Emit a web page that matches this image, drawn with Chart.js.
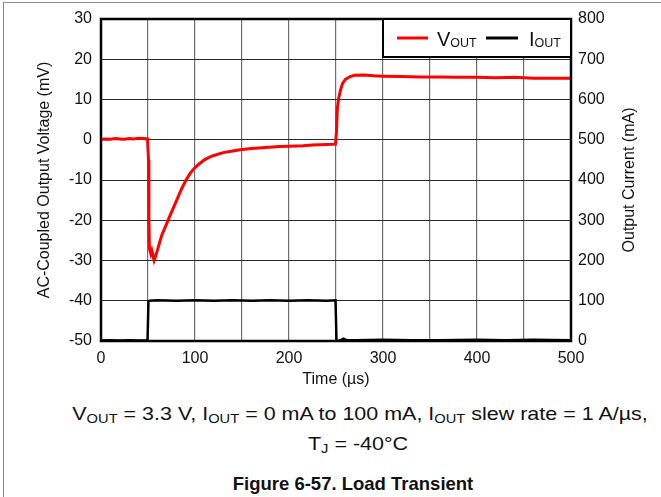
<!DOCTYPE html>
<html>
<head>
<meta charset="utf-8">
<script src="https://cdn.jsdelivr.net/npm/chart.js@4.4.0/dist/chart.umd.min.js"></script>
<style>
  html,body{margin:0;padding:0;background:#fff;}
  body{width:661px;height:497px;position:relative;overflow:hidden;font-family:"Liberation Sans",Arial,sans-serif;color:#111;}
  #frame{position:absolute;left:3px;top:2px;width:700px;height:600px;border-left:1.5px solid #8a8a8a;border-top:1.5px solid #8a8a8a;}
  #wrap{position:absolute;left:0;top:0;width:661px;height:400px;}
  .cap{position:absolute;left:0;width:720px;text-align:center;white-space:nowrap;font-size:19px;line-height:22px;transform:scaleX(1.13);transform-origin:50% 50%;}
  .sub{font-size:13px;vertical-align:-3px;line-height:0;}
  #cap3{font-weight:bold;font-size:18.5px;transform:none;width:706px;}
</style>
</head>
<body>
<div id="frame"></div>
<div id="wrap"><canvas id="c"></canvas></div>
<div class="cap" id="cap1" style="top:403px">V<span class="sub">OUT</span> = 3.3 V, I<span class="sub">OUT</span> = 0 mA to 100 mA, I<span class="sub">OUT</span> slew rate = 1 A/µs,</div>
<div class="cap" id="cap2" style="top:433px;width:716px">T<span class="sub">J</span> = -40°C</div>
<div class="cap" id="cap3" style="top:473px">Figure 6-57. Load Transient</div>

<script>
// V_OUT trace (left axis, mV)
const timeV = [0, 5, 10, 15, 20, 25, 30, 35, 40, 45, 49.5, 50.5, 51, 51.5, 53, 54, 55, 56.5, 58, 60, 62, 65,
  70, 75, 80, 85, 90, 95, 100, 105, 110, 115, 120, 130, 140, 150, 160, 175, 190, 200, 215, 225, 240, 249.5,
  250.5, 251.5, 253, 255, 257, 260, 265, 270, 280, 290, 300, 320, 340, 360, 380, 400, 420, 440, 460, 480, 500];
const voutMv = [0.1, 0.2, 0.1, 0.3, 0.2, 0.1, 0.3, 0.2, 0.4, 0.3, 0.2, -5, -20, -27, -28.3, -27.5, -28.5, -30, -29, -27.5, -25.8, -23.5,
  -20.8, -18, -15.3, -12.6, -10.2, -8.3, -6.9, -5.9, -5.0, -4.4, -3.9, -3.2, -2.8, -2.4, -2.2, -1.9, -1.7, -1.6, -1.5, -1.3, -1.2, -1.1,
  2, 8, 10.5, 12.5, 14, 15, 15.7, 16, 16.1, 15.9, 15.8, 15.7, 15.6, 15.6, 15.5, 15.5, 15.4, 15.5, 15.3, 15.3, 15.3];

// I_OUT trace (right axis, mA)
const timeI = [0, 10, 20, 30, 40, 49.5, 50.5, 51.5, 60, 80, 100, 120, 140, 160, 180, 200, 220, 240, 249.5,
  250.5, 251.5, 255, 258, 261, 270, 300, 330, 360, 400, 430, 460, 500];
const ioutMa = [1, 2, 1, 2, 1, 2, 98, 100, 101, 100, 101, 100, 101, 100, 101, 100, 101, 100, 101,
  3, 0, 2, 6, 2, 2, 3, 2, 2, 3, 2, 3, 2];

const xTickStep = 50;
const vAxis = { min: -50, max: 30, step: 10 };
const iAxis = { min: 0, max: 800, step: 100 };

const FONT = '"Liberation Sans", Arial, sans-serif';

const extras = {
  id: 'extras',
  afterDatasetsDraw(chart){
    const { ctx, chartArea: a } = chart;
    ctx.save();
    // plot frame
    ctx.strokeStyle = '#000';
    ctx.lineWidth = 2.5;
    ctx.strokeRect(a.left, a.top, a.right - a.left, a.bottom - a.top);

    // legend box, top right
    const bx = a.right - 188, by = a.top, bh = 38;
    ctx.fillStyle = '#fff';
    ctx.fillRect(bx, by, a.right - bx, bh);
    ctx.lineWidth = 2;
    ctx.strokeRect(bx, by, a.right - bx, bh);
    const ly = by + 19, base = by + 27;
    ctx.lineWidth = 3;
    ctx.strokeStyle = '#ff0000';
    ctx.beginPath(); ctx.moveTo(a.right - 174, ly); ctx.lineTo(a.right - 143, ly); ctx.stroke();
    ctx.strokeStyle = '#000';
    ctx.beginPath(); ctx.moveTo(a.right - 85, ly); ctx.lineTo(a.right - 53, ly); ctx.stroke();
    ctx.fillStyle = '#111';
    ctx.textBaseline = 'alphabetic';
    ctx.textAlign = 'left';
    const sub = (main, x) => {
      ctx.font = '20px ' + FONT;
      ctx.fillText(main, x, base);
      const w = ctx.measureText(main).width;
      ctx.font = '12.5px ' + FONT;
      ctx.fillText('OUT', x + w, base + 1);
    };
    sub('V', a.right - 134);
    sub('I', a.right - 42);

    // axis titles
    ctx.font = '16px ' + FONT;
    ctx.textAlign = 'center';
    ctx.textBaseline = 'middle';
    const cy = (a.top + a.bottom) / 2;
    ctx.save(); ctx.translate(45, cy); ctx.rotate(-Math.PI / 2);
    ctx.fillText('AC-Coupled Output Voltage (mV)', 0, 0); ctx.restore();
    ctx.save(); ctx.translate(630, cy); ctx.rotate(-Math.PI / 2);
    ctx.fillText('Output Current (mA)', 0, 0); ctx.restore();
    ctx.fillText('Time (µs)', (a.left + a.right) / 2, a.bottom + 39);
    ctx.restore();
  }
};

const ctx = document.getElementById('c').getContext('2d');
new Chart(ctx, {
  type: 'line',
  data: {
    datasets: [
      {
        label: 'VOUT',
        data: timeV.map((t, i) => ({ x: t, y: voutMv[i] })),
        yAxisID: 'y',
        borderColor: '#ff0000',
        borderWidth: 3,
        pointRadius: 0,
        tension: 0
      },
      {
        label: 'IOUT',
        data: timeI.map((t, i) => ({ x: t, y: ioutMa[i] })),
        yAxisID: 'y2',
        borderColor: '#000',
        borderWidth: 2.5,
        pointRadius: 0,
        tension: 0
      }
    ]
  },
  options: {
    responsive: true,
    maintainAspectRatio: false,
    animation: false,
    layout: { padding: { top: 19, left: 0, right: 0, bottom: 0 } },
    plugins: { legend: { display: false }, tooltip: { enabled: false } },
    scales: {
      x: {
        type: 'linear', min: 0, max: 500,
        border: { display: false },
        grid: { color: '#6e6e6e', lineWidth: 1.2, drawTicks: false },
        ticks: {
          stepSize: xTickStep, autoSkip: false, maxRotation: 0, padding: 8,
          color: '#111', font: { size: 16, family: FONT },
          callback: v => (v % 100 === 0 ? v : '')
        },
        afterFit: s => { s.height = 59; }
      },
      y: {
        position: 'left', min: vAxis.min, max: vAxis.max,
        border: { display: false },
        grid: { color: '#2a2a2a', lineWidth: 1, drawTicks: false },
        ticks: { stepSize: vAxis.step, padding: 9, color: '#111', font: { size: 16, family: FONT } },
        afterFit: s => { s.width = 101; }
      },
      y2: {
        position: 'right', min: iAxis.min, max: iAxis.max,
        border: { display: false },
        grid: { display: false, drawTicks: false },
        ticks: { stepSize: iAxis.step, padding: 7, color: '#111', font: { size: 16, family: FONT } },
        afterFit: s => { s.width = 90; }
      }
    }
  },
  plugins: [extras]
});
</script>
</body>
</html>
